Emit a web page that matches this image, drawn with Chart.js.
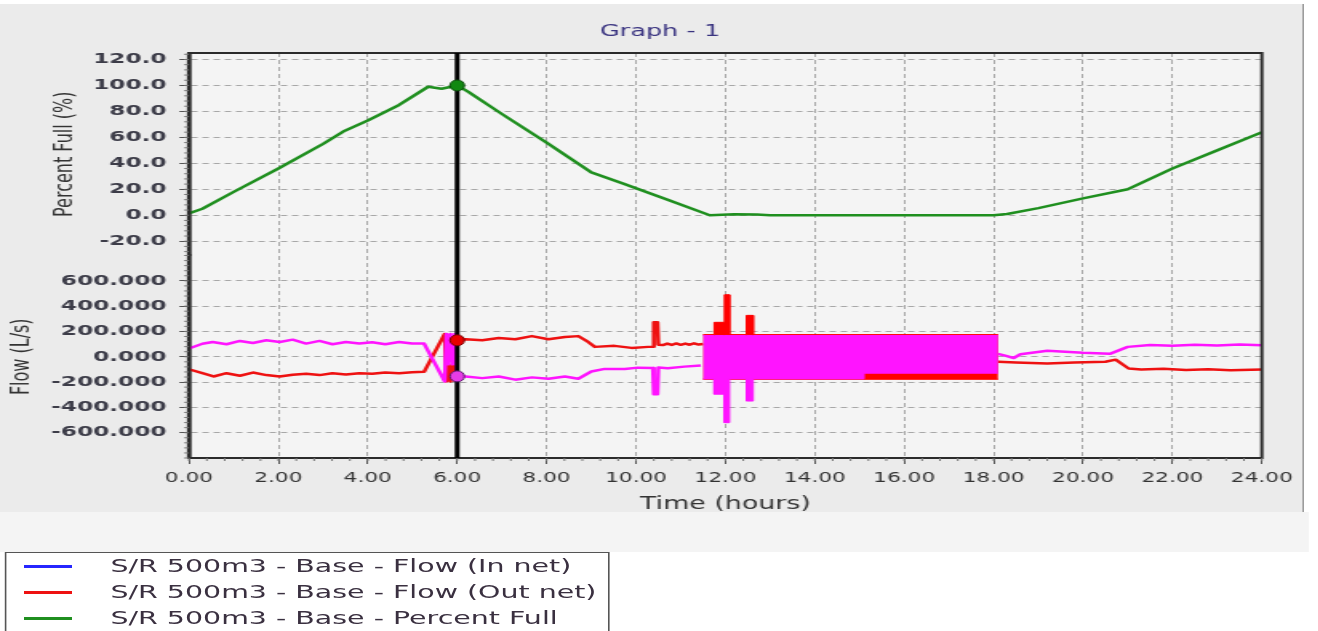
<!DOCTYPE html>
<html lang="en">
<head>
  <meta charset="UTF-8" />
  <title>Graph - 1</title>
  <script src="https://cdn.jsdelivr.net/npm/chart.js"></script>
  <style>
    body {
      margin: 0;
      background: #fff;
      font-family: 'DejaVu Sans', sans-serif;
      overflow: hidden;
    }
    /* the original screenshot is stretched sideways, so the whole drawing is too */
    .stretch {
      position: absolute;
      left: 0;
      top: 0;
      width: 824px;
      height: 631px;
      transform: scaleX(1.6);
      transform-origin: 0 0;
    }
    .panel {
      position: absolute;
      left: 0;
      top: 4px;
      width: 814px;
      height: 508px;
      background: #ebebeb;
      border-right: 1px solid #9c9c9c;
    }
    .strip {
      position: absolute;
      left: 0;
      top: 512px;
      width: 818px;
      height: 40px;
      background: #f4f4f4;
    }
    .legend {
      position: absolute;
      left: 3px;
      top: 552px;
      width: 376px;
      height: 90px;
      background: #fff;
      border: 1px solid #555;
      color: #3a3040;
      font-size: 17.8px;
    }
    .legend div {
      position: relative;
      height: 26px;
      line-height: 26px;
      padding-left: 65px;
      white-space: nowrap;
    }
    .legend span {
      position: absolute;
      left: 11px;
      top: 12px;
      width: 30px;
      height: 3px;
    }
  </style>
</head>
<body>
  <div class="stretch">
    <div class="panel"><canvas id="chart" width="814" height="508"></canvas></div>
    <div class="strip"></div>
    <div class="legend">
      <div><span style="background:#2626ff"></span>S/R 500m3 - Base - Flow (In net)</div>
      <div><span style="background:#ee1111"></span>S/R 500m3 - Base - Flow (Out net)</div>
      <div><span style="background:#1f8f1f"></span>S/R 500m3 - Base - Percent Full</div>
    </div>
  </div>

  <script>
    // ---- data ----
    const pctTicks = [-20, 0, 20, 40, 60, 80, 100, 120];
    const flowTicks = [-600, -400, -200, 0, 200, 400, 600];

    const pctTime = [0, 0.3, 1, 2, 3, 3.45, 4, 4.7, 5.35, 5.65, 6, 6.25, 7, 8, 9, 9.7, 10.3, 10.7, 11.65, 12.2, 12.7, 13, 18, 18.3, 19, 20, 21, 22, 23, 24];
    const pctFull = [1.5, 5, 18, 36, 55, 64.5, 73, 85, 99, 97.5, 100, 95, 78, 56, 33, 24.5, 17, 12, 0, 0.8, 0.6, 0, 0, 1, 5.5, 13, 20, 36, 50, 64];

    // Flow (Out net), drawn red
    const outNetTime = [0, 0.3, 0.55, 0.84, 1.14, 1.43, 1.73, 2.03, 2.32, 2.62, 2.92, 3.21, 3.51, 3.81, 4.1, 4.39, 4.7, 4.99, 5.26,
      5.72, 5.76, 5.8, 5.85, 5.9, 5.95, 6.0, 6.19, 6.56, 6.93, 7.3, 7.67, 8.04, 8.41, 8.71, 8.93, 9.08, 9.52, 9.9, 10.27,
      10.38, 10.4, 10.48, 10.5, 10.6, 10.7, 10.8, 10.9, 11.0, 11.1, 11.2, 11.3, 11.4, 11.5, 14.8,
      18.1, 18.5, 19.2, 19.8, 20.5, 20.73, 21.02, 21.3, 21.8, 22.3, 22.8, 23.3, 24];
    const outNetFlow = [-99, -130, -156, -130, -150, -125, -145, -156, -143, -135, -145, -130, -140, -130, -135, -125, -130, -122, -119,
      180, -195, -60, -195, -60, -190, 130, 138, 130, 148, 138, 163, 138, 156, 163, 117, 78, 86, 70, 78,
      80, 272, 272, 95, 92, 104, 93, 105, 94, 104, 95, 106, 96, 100, null,
      -39, -45, -54, -45, -39, -23, -93, -101, -95, -105, -98, -106, -100];

    // Flow (In net), drawn magenta
    const inNetTime = [0, 0.3, 0.53, 0.84, 1.14, 1.43, 1.73, 2.03, 2.32, 2.62, 2.92, 3.21, 3.51, 3.81, 4.1, 4.39, 4.7, 4.99, 5.26,
      5.72, 5.76, 5.8, 5.85, 5.9, 5.95, 6.0, 6.19, 6.56, 6.93, 7.3, 7.67, 8.04, 8.41, 8.71, 9.0, 9.3, 9.75, 10.04,
      10.38, 10.4, 10.48, 10.5, 10.71, 11.08, 11.45, 14.8,
      18.1, 18.3, 18.45, 18.6, 19.2, 20.0, 20.6, 21.0, 21.5, 22.0, 22.5, 23.0, 23.5, 24];
    const inNetFlow = [65, 103, 117, 99, 125, 109, 130, 117, 135, 104, 125, 99, 117, 104, 114, 99, 117, 104, 104,
      -195, 180, -60, 180, -60, 180, -155, -156, -169, -156, -181, -163, -174, -156, -174, -117, -96, -96, -86,
      -88, -296, -296, -85, -90, -78, -70, null,
      23, 5, -10, 20, 47, 31, 23, 78, 93, 86, 95, 88, 96, 90];

    // 11.5 h - 18.1 h: both flows swing so fast that they show as solid bands
    const bandTime = [11.5, 11.75, 11.75, 11.98, 11.98, 12.09, 12.09, 12.47, 12.47, 12.62, 12.62, 15.1, 15.1, 18.1];
    const outBandHi = [175, 175, 272, 272, 490, 490, 175, 175, 327, 327, 175, 175, 175, 175];
    const outBandLo = [-178, -178, -178, -178, -178, -178, -178, -178, -178, -178, -178, -178, -178, -178];
    const inBandHi = [168, 168, 168, 168, 168, 168, 168, 168, 168, 168, 168, 168, 168, 168];
    const inBandLo = [-175, -175, -296, -296, -521, -521, -175, -175, -350, -350, -175, -175, -130, -130];

    // cursor at 6.00 h and its read-outs
    const cursorTime = 6;
    const cursorPct = 100;
    const cursorOut = 130;
    const cursorIn = -155;

    // ---- layout (pre-stretch pixels) ----
    const STRETCH = 1.6;
    const AREA_LEFT = 189 / STRETCH;
    const AREA_RIGHT = 1267 / STRETCH;
    const CANVAS_W = 814;
    const PAD_LEFT = 11;

    const GREEN = '#1f8f1f';
    const RED = '#ee1111';
    const MAGENTA = '#ff14ff';
    const GRID = '#a8a8a8';

    const pts = (ts, vs) => ts.map((t, i) => ({x: t, y: vs[i]}));

    Chart.defaults.font.family = "'DejaVu Sans', sans-serif";

    const framePlugin = {
      id: 'frame',
      beforeDraw(chart) {
        const {ctx, chartArea: a} = chart;
        ctx.save();
        ctx.fillStyle = '#f4f4f4';
        ctx.fillRect(a.left, a.top, a.width, a.height);
        ctx.restore();
      },
      afterDatasetsDraw(chart) {
        const {ctx, chartArea: a, scales} = chart;
        const x = scales.x.getPixelForValue(cursorTime);
        ctx.save();
        // frame
        ctx.strokeStyle = '#2b2b2b';
        ctx.lineWidth = 2;
        ctx.strokeRect(a.left, a.top, a.width, a.height);
        ctx.lineWidth = 2.5;
        ctx.beginPath();
        ctx.moveTo(a.left, a.top);
        ctx.lineTo(a.left, a.bottom);
        ctx.stroke();
        // cursor line
        ctx.strokeStyle = '#000';
        ctx.lineWidth = 3;
        ctx.beginPath();
        ctx.moveTo(x, a.top);
        ctx.lineTo(x, a.bottom);
        ctx.stroke();
        // cursor dots
        const dots = [
          [scales.yPct.getPixelForValue(cursorPct), '#118811', '#0b4d0b'],
          [scales.yFlow.getPixelForValue(cursorOut), '#e80000', '#7a0000'],
          [scales.yFlow.getPixelForValue(cursorIn), '#e63ce6', '#5a1a6a']
        ];
        ctx.lineWidth = 1;
        dots.forEach(([y, fill, stroke]) => {
          ctx.beginPath();
          ctx.ellipse(x, y, 4.5, 5.5, 0, 0, Math.PI * 2);
          ctx.fillStyle = fill;
          ctx.fill();
          ctx.strokeStyle = stroke;
          ctx.stroke();
        });
        // minor tick marks
        ctx.strokeStyle = '#777';
        ctx.lineWidth = 1;
        ctx.beginPath();
        for (let v = 0; v <= 24.001; v += 0.4) {
          const px = scales.x.getPixelForValue(v);
          ctx.moveTo(px, a.bottom);
          ctx.lineTo(px, a.bottom + 3);
        }
        for (let v = -28; v <= 124; v += 4) {
          const py = scales.yPct.getPixelForValue(v);
          ctx.moveTo(a.left - 3, py);
          ctx.lineTo(a.left, py);
        }
        for (let v = -800; v <= 800; v += 40) {
          const py = scales.yFlow.getPixelForValue(v);
          ctx.moveTo(a.left - 3, py);
          ctx.lineTo(a.left, py);
        }
        ctx.stroke();
        ctx.restore();
      }
    };

    const lineDefaults = {pointRadius: 0, tension: 0, borderJoinStyle: 'round', spanGaps: false};

    const yTickFont = {family: "'DejaVu Sans', sans-serif", weight: 'bold', size: 14.5};

    new Chart(document.getElementById('chart'), {
      type: 'line',
      data: {
        datasets: [
          {...lineDefaults, label: 'S/R 500m3 - Base - Percent Full', data: pts(pctTime, pctFull), yAxisID: 'yPct',
            borderColor: GREEN, borderWidth: 2.5, order: 1},
          {...lineDefaults, label: 'S/R 500m3 - Base - Flow (In net)', data: pts(inNetTime, inNetFlow), yAxisID: 'yFlow',
            borderColor: MAGENTA, borderWidth: 2.5, order: 3},
          {...lineDefaults, label: 'in band hi', data: pts(bandTime, inBandHi), yAxisID: 'yFlow',
            borderColor: MAGENTA, borderWidth: 1, backgroundColor: MAGENTA, fill: false, order: 4},
          {...lineDefaults, label: 'in band lo', data: pts(bandTime, inBandLo), yAxisID: 'yFlow',
            borderColor: MAGENTA, borderWidth: 1, backgroundColor: MAGENTA, fill: '-1', order: 4},
          {...lineDefaults, label: 'S/R 500m3 - Base - Flow (Out net)', data: pts(outNetTime, outNetFlow), yAxisID: 'yFlow',
            borderColor: RED, borderWidth: 2.5, order: 5},
          {...lineDefaults, label: 'out band hi', data: pts(bandTime, outBandHi), yAxisID: 'yFlow',
            borderColor: '#ff0000', borderWidth: 1, backgroundColor: '#ff0000', fill: false, order: 6},
          {...lineDefaults, label: 'out band lo', data: pts(bandTime, outBandLo), yAxisID: 'yFlow',
            borderColor: '#ff0000', borderWidth: 1, backgroundColor: '#ff0000', fill: '-1', order: 6}
        ]
      },
      options: {
        responsive: false,
        animation: false,
        events: [],
        layout: {padding: {left: PAD_LEFT, right: 0, top: 0, bottom: 0}},
        plugins: {
          legend: {display: false},
          tooltip: {enabled: false},
          title: {
            display: true,
            text: 'Graph - 1',
            color: '#3a3480',
            font: {size: 16, weight: 'normal'},
            padding: {top: 18.4, bottom: 11.4}
          }
        },
        scales: {
          x: {
            type: 'linear',
            min: 0,
            max: 24,
            ticks: {stepSize: 2, maxRotation: 0, padding: 6, color: '#333',
              font: {size: 13.5}, callback: v => v.toFixed(2)},
            grid: {color: GRID, tickColor: '#555', tickLength: 6},
            border: {display: true, color: '#2b2b2b', width: 2, dash: [4, 3]},
            title: {display: true, text: 'Time (hours)', color: '#333',
              font: {size: 16.8, lineHeight: 1}, padding: {top: 0, bottom: -1.5}},
            afterFit: s => { s.height = 54; }
          },
          yFlow: {
            type: 'linear',
            position: 'left',
            stack: 'left',
            stackWeight: 1,
            min: -800,
            max: 800,
            afterBuildTicks: s => { s.ticks = flowTicks.map(v => ({value: v})); },
            ticks: {autoSkip: false, padding: 8, color: '#3c3c48', font: yTickFont, callback: v => v.toFixed(3)},
            grid: {color: GRID, tickColor: '#555', tickLength: 6},
            border: {display: true, color: '#2b2b2b', width: 2.5, dash: [4, 3]},
            title: {display: true, text: 'Flow (L/s)', color: '#333', font: {size: 16}, padding: {top: -7}},
            afterFit: s => { s.width = AREA_LEFT - PAD_LEFT; }
          },
          yPct: {
            type: 'linear',
            position: 'left',
            stack: 'left',
            stackWeight: 1,
            min: -31,
            max: 125,
            afterBuildTicks: s => { s.ticks = pctTicks.map(v => ({value: v})); },
            ticks: {autoSkip: false, padding: 8, color: '#3c3c48', font: yTickFont, callback: v => v.toFixed(1)},
            grid: {color: GRID, tickColor: '#555', tickLength: 6},
            border: {display: true, color: '#2b2b2b', width: 2.5, dash: [4, 3]},
            title: {display: true, text: 'Percent Full (%)', color: '#333', font: {size: 16}, padding: {top: 20}},
            afterFit: s => { s.width = AREA_LEFT - PAD_LEFT; }
          },
          // empty axis that only keeps the gap on the right of the plot
          yGap: {
            type: 'linear',
            position: 'right',
            display: true,
            ticks: {display: false},
            grid: {display: false, drawTicks: false},
            border: {display: false},
            afterFit: s => { s.width = CANVAS_W - AREA_RIGHT; }
          }
        }
      },
      plugins: [framePlugin]
    });
  </script>
</body>
</html>
